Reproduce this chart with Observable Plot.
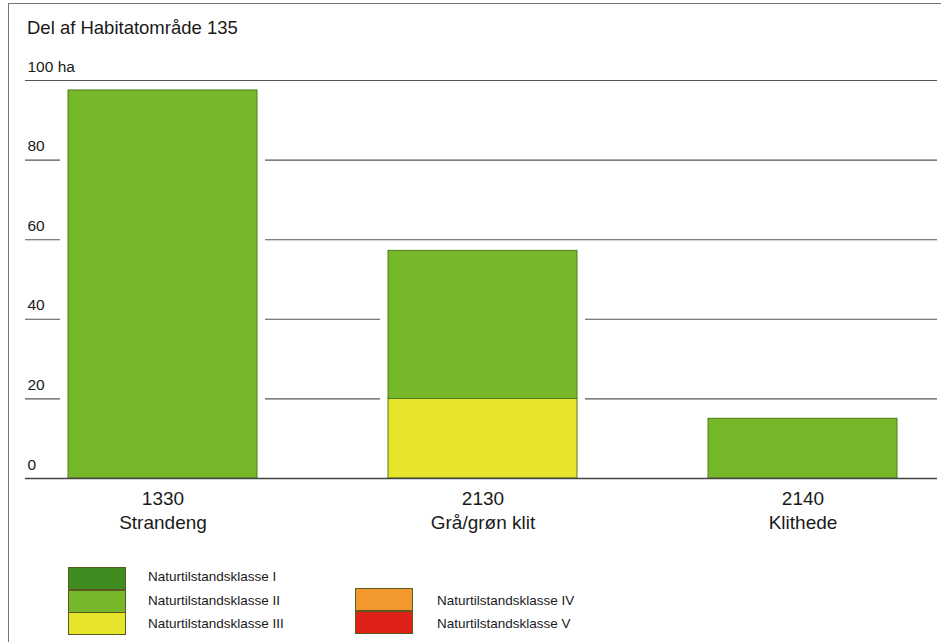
<!DOCTYPE html>
<html>
<head>
<meta charset="utf-8">
<script src="https://cdn.jsdelivr.net/npm/d3@7"></script>
<script src="https://cdn.jsdelivr.net/npm/@observablehq/plot@0.6"></script>
<style>
  html, body { margin: 0; padding: 0; background: #fff; }
  #wrap { position: relative; width: 941px; height: 642px; overflow: hidden; font-family: "Liberation Sans", Arial, sans-serif; color: #1a1a1a; }
  #frame { position: absolute; left: 8px; top: 3px; width: 940px; height: 650px; border-left: 1px solid #777; border-top: 1px solid #777; }
  #title { position: absolute; left: 27px; top: 17px; font-size: 18.5px; }
  #chart { position: absolute; left: 0; top: 0; }
  .sw { position: absolute; width: 58px; border: 1px solid #5a5a20; box-sizing: border-box; }
  .lt { position: absolute; font-size: 13.5px; line-height: 14px; }
</style>
</head>
<body>
<div id="wrap">
  <div id="frame"></div>
  <div id="chart"></div>
  <div id="title">Del af Habitatområde 135</div>
  <div id="legend"></div>
</div>
<script>
// Data
const habitats = ["1330", "2130", "2140"];
const habitatNames = ["Strandeng", "Grå/grøn klit", "Klithede"];
const classes = ["Naturtilstandsklasse I", "Naturtilstandsklasse II", "Naturtilstandsklasse III", "Naturtilstandsklasse IV", "Naturtilstandsklasse V"];
const classColors = ["#3f8c20", "#76b82a", "#e6e52c", "#f2982e", "#de2219"];
const classI   = [0, 0, 0];
const classII  = [97.5, 37.2, 15];
const classIII = [0, 20, 0];
const classIV  = [0, 0, 0];
const classV   = [0, 0, 0];
const yTicks = [0, 20, 40, 60, 80, 100];
const yTickLabels = ["0", "20", "40", "60", "80", "100 ha"];

const series = [classIII, classII, classI, classIV, classV];
const seriesClass = [classes[2], classes[1], classes[0], classes[3], classes[4]];
const rows = [];
habitats.forEach((h, i) => {
  series.forEach((s, k) => {
    if (s[i] > 0) rows.push({habitat: h, cls: seriesClass[k], value: s[i]});
  });
});
const totals = habitats.map((h, i) => ({habitat: h, total: series.reduce((a, s) => a + s[i], 0)}));
const labels = habitats.map((h, i) => ({habitat: h, label: h + "\n" + habitatNames[i]}));
const ticks = yTicks.map((v, i) => ({v, label: yTickLabels[i]}));

const chart = Plot.plot({
  width: 941,
  height: 540,
  marginTop: 80,
  marginBottom: 62,
  marginLeft: 68,
  marginRight: 44,
  style: {fontFamily: "Liberation Sans, Arial, sans-serif", background: "transparent"},
  x: {domain: habitats, paddingInner: 0.41, paddingOuter: 0, axis: null},
  y: {domain: [0, 100], axis: null},
  color: {domain: classes, range: classColors},
  marks: [
    Plot.ruleY(yTicks.filter(v => v > 0), {stroke: "#555", strokeWidth: 1.1, insetLeft: -43, insetRight: -40}),
    Plot.barY(totals, {x: "habitat", y: "total", fill: "white", insetLeft: -8, insetRight: -8, insetTop: -6}),
    Plot.barY(rows, {x: "habitat", y: "value", fill: d => d.cls, stroke: "#4f7d1a", strokeWidth: 1, order: classes.slice().reverse()}),
    Plot.ruleY([0], {stroke: "#444", strokeWidth: 1.5, insetLeft: -43, insetRight: -40}),
    Plot.text(ticks, {y: "v", text: "label", frameAnchor: "left", textAnchor: "start", dx: -41, dy: -9, lineAnchor: "bottom", fontSize: 15.5, fill: "#1a1a1a"}),
    Plot.text(labels, {x: "habitat", y: 0, text: "label", dy: 9, lineAnchor: "top", lineHeight: 1.28, fontSize: 19, fill: "#1a1a1a"})
  ]
});
document.getElementById("chart").appendChild(chart);

// Legend
const legend = document.getElementById("legend");
const groups = [
  {x: 68, tx: 148, top: 567, items: [0, 1, 2], centers: [577, 601, 624]},
  {x: 355, tx: 437, top: 588, items: [3, 4], centers: [601, 624]}
];
groups.forEach(g => {
  g.items.forEach((ci, j) => {
    const sw = document.createElement("div");
    sw.className = "sw";
    sw.style.left = g.x + "px";
    sw.style.top = (g.top + j * 22.5) + "px";
    sw.style.height = "23px";
    sw.style.background = classColors[ci];
    legend.appendChild(sw);
    const t = document.createElement("div");
    t.className = "lt";
    t.style.left = g.tx + "px";
    t.style.top = (g.centers[j] - 7) + "px";
    t.textContent = classes[ci];
    legend.appendChild(t);
  });
});
</script>
</body>
</html>
